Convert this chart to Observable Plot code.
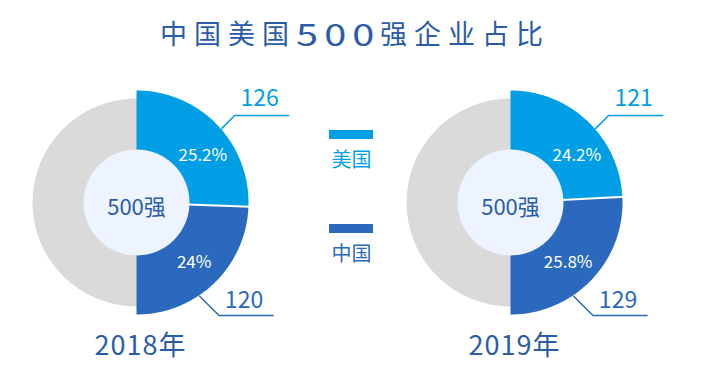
<!DOCTYPE html>
<html><head><meta charset="utf-8">
<script src="https://cdn.jsdelivr.net/npm/d3@7"></script>
<script src="https://cdn.jsdelivr.net/npm/@observablehq/plot@0.6"></script>
<style>
body{margin:0;background:#fff;font-family:"Noto Sans CJK SC","Noto Sans",sans-serif;}
#title{height:66px;line-height:66px;text-align:center;font-size:27px;color:#2a5caa;letter-spacing:7px;padding-left:7px;white-space:nowrap;}
#title .num{display:inline-block;width:84px;font-size:31px;letter-spacing:4.8px;transform:scaleX(1.28);transform-origin:left center;text-align:left;vertical-align:top;}
#chart svg{display:block}
</style></head><body>
<div id="title">中国美国<span class="num">500</span>强企业占比</div>
<div id="chart"></div>
<script>
// ---- data ----
const years = ["2018年", "2019年"];
const countries = ["美国", "中国"];
const usCounts = [126, 121];
const cnCounts = [120, 129];
const usShares = ["25.2%", "24.2%"];
const cnShares = ["24%", "25.8%"];
const centerLabel = "500强";

// ---- style / layout ----
const colors = {美国: "#009fe5", 中国: "#2a69bd"};
const titleBlue = "#2a5caa";
const W = 703, H = 302;
const centers = [{x: 136, y: 136}, {x: 510, y: 136}];
const R = 112, Rg = 104, Ri = 53;

function pt(c, r, deg) {
  const a = deg * Math.PI / 180;
  return [c.x + r * Math.sin(a), c.y - r * Math.cos(a)];
}
function sector(c, r, a0, a1) {
  const pts = [{x: c.x, y: c.y}];
  const n = Math.max(4, Math.ceil(Math.abs(a1 - a0)));
  for (let i = 0; i <= n; i++) {
    const [x, y] = pt(c, r, a0 + (a1 - a0) * i / n);
    pts.push({x, y});
  }
  return pts;
}

const marks = [];
// gray background rings
marks.push(Plot.dot(centers, {x: "x", y: "y", r: Rg, fill: "#dadada", stroke: null}));

years.forEach((yr, i) => {
  const c = centers[i];
  const total = usCounts[i] + cnCounts[i];
  const angle = d3.scaleLinear().domain([0, total]).range([0, 180]);
  const aUS = angle(usCounts[i]);
  marks.push(Plot.line(sector(c, R, 0, aUS), {x: "x", y: "y", fill: colors["美国"], stroke: "none", curve: "linear-closed"}));
  marks.push(Plot.line(sector(c, R, aUS, 180), {x: "x", y: "y", fill: colors["中国"], stroke: "none", curve: "linear-closed"}));
  // separator
  const p0 = pt(c, Ri - 2, aUS), p1 = pt(c, R + 2, aUS);
  marks.push(Plot.link([{x1: p0[0], y1: p0[1], x2: p1[0], y2: p1[1]}], {x1: "x1", y1: "y1", x2: "x2", y2: "y2", stroke: "#fff", strokeWidth: 2}));

  // callouts
  const s1 = pt(c, R + 1, 49);
  const e1y = c.y - 87;
  const e1 = [s1[0] + (s1[1] - e1y), e1y];
  const top = [{x: s1[0], y: s1[1]}, {x: e1[0], y: e1[1]}, {x: e1[0] + 54, y: e1[1]}];
  marks.push(Plot.line(top, {x: "x", y: "y", stroke: colors["美国"], strokeWidth: 1.5}));
  marks.push(Plot.text([String(usCounts[i])], {x: e1[0] + 25, y: e1y - 16.5, text: d => d, fill: colors["美国"], fontSize: 23}));

  const s2 = pt(c, R + 1, 146);
  const e2y = c.y + 113;
  const e2 = [s2[0] + (e2y - s2[1]), e2y];
  const bot = [{x: s2[0], y: s2[1]}, {x: e2[0], y: e2[1]}, {x: e2[0] + 54, y: e2[1]}];
  marks.push(Plot.line(bot, {x: "x", y: "y", stroke: colors["中国"], strokeWidth: 1.5}));
  marks.push(Plot.text([String(cnCounts[i])], {x: e2[0] + 25, y: e2y - 14.5, text: d => d, fill: colors["中国"], fontSize: 23}));

  // percentage labels
  const q1 = pt(c, 81, 55), q2 = pt(c, 83, 136);
  marks.push(Plot.text([usShares[i]], {x: q1[0], y: q1[1], text: d => d, fill: "#fff", fontSize: 17}));
  marks.push(Plot.text([cnShares[i]], {x: q2[0], y: q2[1], text: d => d, fill: "#fff", fontSize: 17}));

  // year
  marks.push(Plot.text([yr], {x: c.x + 4, y: 280, text: d => d, fill: titleBlue, fontSize: 27}));
});

// inner discs
marks.push(Plot.dot(centers, {x: "x", y: "y", r: Ri, fill: "#eef4ff", stroke: null}));
marks.push(Plot.text(centers, {x: "x", y: d => d.y + 5, text: () => centerLabel, fill: titleBlue, fontSize: 22}));

// legend
const legend = countries.map((k, j) => ({k, y: 64 + j * 94}));
marks.push(Plot.rect(legend, {x1: 329, x2: 373, y1: "y", y2: d => d.y + 9, fill: d => colors[d.k]}));
marks.push(Plot.text(legend, {x: 351, y: d => d.y + 30, text: "k", fill: d => colors[d.k], fontSize: 20}));

const svg = Plot.plot({
  width: W, height: H,
  margin: 0,
  x: {domain: [0, W], range: [0, W], axis: null},
  y: {domain: [0, H], range: [0, H], axis: null},
  color: {type: "identity"},
  style: {fontFamily: "Noto Sans CJK SC, Noto Sans, sans-serif", background: "#fff", overflow: "visible"},
  marks
});
d3.select(svg).selectAll("text").filter(function () { return years.includes(this.textContent); }).attr("letter-spacing", 1);
document.getElementById("chart").appendChild(svg);
</script>
</body></html>
